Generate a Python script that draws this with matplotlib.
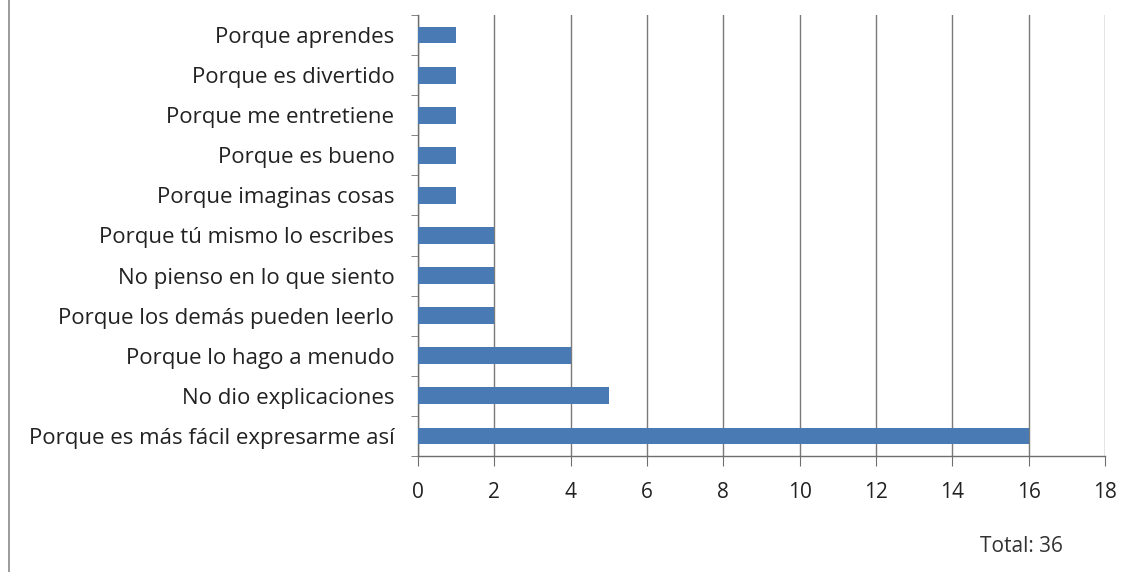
import matplotlib
matplotlib.use("Agg")
import matplotlib.pyplot as plt
from matplotlib.lines import Line2D

# respuestas, de abajo hacia arriba
categorias = [
    "Porque es más fácil expresarme así",
    "No dio explicaciones",
    "Porque lo hago a menudo",
    "Porque los demás pueden leerlo",
    "No pienso en lo que siento",
    "Porque tú mismo lo escribes",
    "Porque imaginas cosas",
    "Porque es bueno",
    "Porque me entretiene",
    "Porque es divertido",
    "Porque aprendes",
]
valores = [16, 5, 4, 2, 2, 2, 1, 1, 1, 1, 1]
total = 36
ticks_x = [0, 2, 4, 6, 8, 10, 12, 14, 16, 18]

plt.rcParams["font.family"] = ["Open Sans", "DejaVu Sans"]

W, H = 1145, 572
fig = plt.figure(figsize=(W / 100, H / 100), dpi=100)
ax = fig.add_axes([418 / W, 1 - 456 / H, (1105 - 418) / W, (456 - 15) / H])

y = range(len(categorias))
ax.barh(y, valores, height=0.42, color="#4a7ab4", zorder=3)

ax.set_xlim(0, 18)
ax.set_ylim(-0.5, len(categorias) - 0.5)
ax.set_xticks(ticks_x)
ax.set_xticklabels([str(t) for t in ticks_x], fontsize=15, color="#222222")
ax.set_yticks(list(y))
ax.set_yticklabels(categorias, fontsize=16, color="#222222")
ax.set_yticks([i - 0.5 for i in range(len(categorias) + 1)], minor=True)

ax.grid(axis="x", color="#7a7a7a", lw=1.0, zorder=0)
for side in ("top", "right"):
    ax.spines[side].set_visible(False)
for side in ("left", "bottom"):
    ax.spines[side].set_color("#6e6e6e")
    ax.spines[side].set_linewidth(1.0)

ax.tick_params(axis="x", length=7, color="#6e6e6e", pad=12)
ax.tick_params(axis="y", which="major", length=0, pad=17)
ax.tick_params(axis="y", which="minor", length=5, color="#6e6e6e")

fig.text(1021 / W, 1 - 547 / H, f"Total: {total}", fontsize=15,
         color="#333333", ha="center", va="center")

# borde del marco exterior a la izquierda
fig.add_artist(Line2D([9 / W, 9 / W], [0, 1], transform=fig.transFigure,
                      color="#8a8a8a", lw=1.2))

fig.savefig("out.png", dpi=100, facecolor="white")
